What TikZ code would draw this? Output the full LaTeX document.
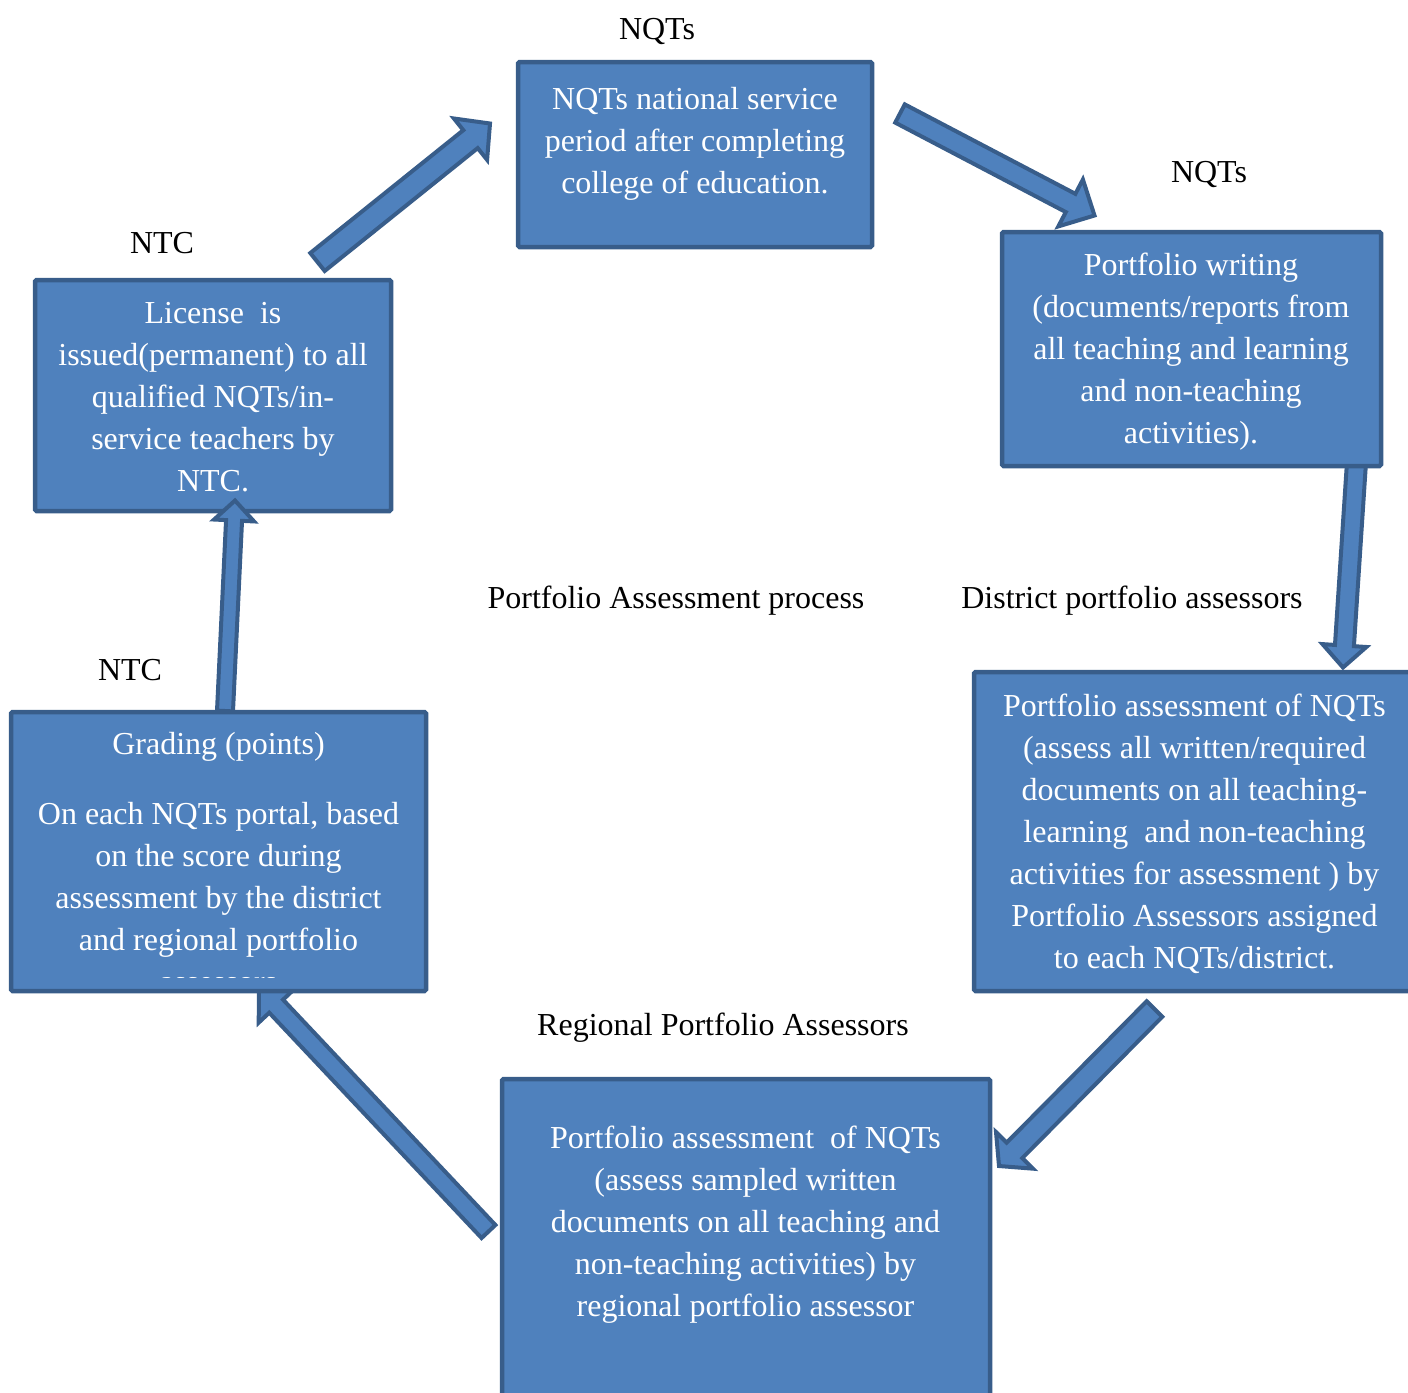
\documentclass[tikz,border=0pt]{standalone}
\usepackage{fontspec}
\setmainfont{Liberation Serif}
\usetikzlibrary{calc}

\definecolor{boxfill}{HTML}{4F81BD}
\definecolor{boxline}{HTML}{385D8A}

% block arrow: tail, tip, half shaft width, half head width, head length
\newcommand{\blockarrow}[5]{%
  \coordinate (neck) at ($(#2)!#5!(#1)$);
  \path [fatarrow] ($(#1)!#3!90:(#2)$) -- ($(neck)!#3!90:(#2)$) -- ($(neck)!#4!90:(#2)$) -- (#2)
    -- ($(neck)!#4!-90:(#2)$) -- ($(neck)!#3!-90:(#2)$) -- ($(#1)!#3!-90:(#2)$) -- cycle;
}

\begin{document}
\begin{tikzpicture}[
    x=1pt, y=-1pt,
    font=\fontsize{32}{42}\selectfont,
    box/.style={rectangle, draw=boxline, fill=boxfill, line width=4.5pt, rounded corners=1.5pt, inner sep=0pt},
    boxtext/.style={text=white, align=center, inner sep=0pt},
    caption/.style={anchor=base, inner sep=0pt},
    fatarrow/.style={draw=boxline, fill=boxfill, line width=4pt, line join=miter}
]
    \useasboundingbox (0,0) rectangle (1408,1392);
    \clip (0,0) rectangle (1408,1392);

    % arrow ends
    \coordinate (a1s) at (317.5,262);
    \coordinate (a1e) at (490,123.5);
    \coordinate (a2s) at (900,113.5);
    \coordinate (a2e) at (1094.5,215.5);
    \coordinate (a3s) at (1356.5,462);
    \coordinate (a3e) at (1343,667.5);
    \coordinate (a4s) at (1154.5,1009);
    \coordinate (a4e) at (999,1166);
    \coordinate (a5s) at (488.5,1231.5);
    \coordinate (a5e) at (259,988);
    \coordinate (a6s) at (225,711);
    \coordinate (a6e) at (235,500.5);

    \blockarrow{a1s}{a1e}{11.5pt}{26.5pt}{25pt}
    \blockarrow{a2s}{a2e}{10.3pt}{26.5pt}{27pt}
    \blockarrow{a3s}{a3e}{9.5pt}{22pt}{22pt}
    \blockarrow{a4s}{a4e}{11pt}{26pt}{22pt}
    \blockarrow{a5s}{a5e}{9.5pt}{24pt}{25pt}

    % boxes
    \node [box, minimum width=354, minimum height=185] (serv) at (695,154.5) {};
    \node [box, minimum width=379, minimum height=234] (writ) at (1191.5,349) {};
    \node [box, minimum width=441, minimum height=319] (dist) at (1194.5,831.5) {};
    \node [box, minimum width=488, minimum height=341] (reg) at (746,1249.5) {};
    \node [box, minimum width=415, minimum height=279] (grad) at (218.5,851.5) {};
    \node [box, minimum width=356, minimum height=231] (lic) at (213,395.5) {};

    \node [boxtext] (serv-t) at (695,143.5) {NQTs national service\\period after completing\\college of education.};
    \node [boxtext] (writ-t) at (1191,352) {Portfolio writing\\(documents/reports from\\all teaching and learning\\and non-teaching\\activities).};
    \node [boxtext] (dist-t) at (1194.5,834) {Portfolio assessment of NQTs\\(assess all written/required\\documents on all teaching-\\learning~~and non-teaching\\activities for assessment ) by\\Portfolio Assessors assigned\\to each NQTs/district.};
    \node [boxtext] (reg-t) at (745.5,1225) {Portfolio assessment~~of NQTs\\(assess sampled written\\documents on all teaching and\\non-teaching activities) by\\regional portfolio assessor};
    \begin{scope}
        \clip (13.5,714.5) rectangle (423.5,977);
        \node [boxtext] (grad-t) at (218.5,863) {Grading (points)\\[28pt]On each NQTs portal, based\\on the score during\\assessment by the district\\and regional portfolio\\assessors};
    \end{scope}
    \node [boxtext] (lic-t) at (213,397.5) {License~~is\\issued(permanent) to all\\qualified NQTs/in-\\service teachers by\\NTC.};

    \blockarrow{a6s}{a6e}{8pt}{20pt}{20pt}

    % captions
    \node [caption] (nqt1) at (657,39) {NQTs};
    \node [caption] (nqt2) at (1209,182) {NQTs};
    \node [caption] (ntc1) at (162,253) {NTC};
    \node [caption] (ntc2) at (130,680) {NTC};
    \node [caption] (title) at (676,608) {Portfolio Assessment process};
    \node [caption] (distlab) at (1132,608) {District portfolio assessors};
    \node [caption] (reglab) at (723,1035) {Regional Portfolio Assessors};
\end{tikzpicture}
\end{document}
